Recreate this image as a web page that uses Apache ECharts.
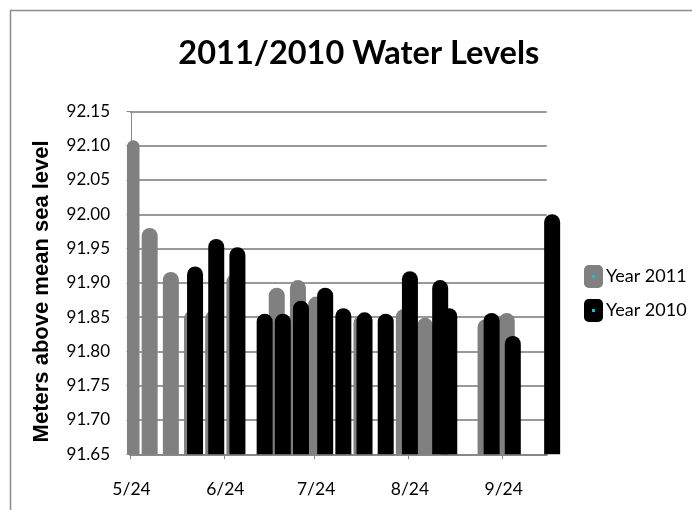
<!DOCTYPE html>
<html>
<head>
<meta charset="utf-8">
<script src="https://cdn.jsdelivr.net/npm/echarts@6/dist/echarts.min.js"></script>
<style>
html,body{margin:0;padding:0;background:#fff;}
#chart{width:692px;height:510px;}
</style>
</head>
<body>
<div id="chart"></div>
<script>
// ---- data (month/day of each reading) ----
const datesA = ['5/24','5/30','6/6','6/13','6/20','6/27','7/11','7/18','7/24','8/8','8/22','8/29','9/18','9/25'];
const valuesA = [92.108,91.98,91.916,91.86,91.86,91.913,91.893,91.904,91.88,91.853,91.862,91.849,91.847,91.856];
const datesB = ['6/14','6/21','6/28','7/7','7/13','7/19','7/27','8/2','8/9','8/16','8/24','9/3','9/6','9/20','9/27','10/10'];
const valuesB = [91.924,91.964,91.952,91.855,91.855,91.874,91.893,91.863,91.857,91.855,91.917,91.904,91.863,91.856,91.8225,92.00];
const tickLabels = ['5/24','6/24','7/24','8/24','9/24'];
const yTicks = [91.65,91.70,91.75,91.80,91.85,91.90,91.95,92.00,92.05,92.10,92.15];
const seriesNames = ['Year 2011','Year 2010'];

function dayOf(md){
  const p = md.split('/').map(Number);
  return Math.round((Date.UTC(2011,p[0]-1,p[1]) - Date.UTC(2011,4,24)) / 86400000);
}
const dataA = datesA.map((d,i)=>[dayOf(d), valuesA[i]]);
const dataB = datesB.map((d,i)=>[dayOf(d), valuesB[i]]);
const labelDays = tickLabels.map(dayOf);
const tickDays = labelDays.map(d=>d-0.5);
const labelMap = {};
tickLabels.forEach((t,i)=>{ labelMap[labelDays[i]] = t; });

const FONT = 'Lato';
const chart = echarts.init(document.getElementById('chart'), null, {renderer:'canvas'});
chart.setOption({
  backgroundColor:'#ffffff',
  animation:false,
  title:{
    text:'2011/2010 Water Levels',
    left:358.8, top:37, padding:0, textAlign:'center',
    textStyle:{fontFamily:FONT, fontWeight:'bold', fontSize:32.5, color:'#000', lineHeight:34}
  },
  legend:{
    orient:'vertical', left:584, top:265, padding:0,
    itemWidth:19, itemHeight:23, itemGap:11,
    icon:'roundRect',
    data:seriesNames,
    textStyle:{fontFamily:FONT, fontSize:18, color:'#000', padding:[4,0,0,-2]}
  },
  grid:{left:130, right:145.3, top:111.4, bottom:55.7, containLabel:false},
  xAxis:{
    type:'value', min:-0.5, max:137.2,
    splitLine:{show:false},
    axisLine:{show:true, lineStyle:{color:'#888888', width:2}},
    axisTick:{show:true, customValues:tickDays, length:5, lineStyle:{color:'#888888', width:1}},
    axisLabel:{show:true, customValues:labelDays, margin:26,
      fontFamily:FONT, fontSize:17.5, color:'#000',
      formatter:function(v){ return labelMap[Math.round(v)] || ''; }}
  },
  yAxis:{
    type:'value', min:yTicks[0], max:yTicks[yTicks.length-1], interval:0.05, startValue:yTicks[0],
    name:'Meters above mean sea level', nameLocation:'middle', nameGap:77, nameRotate:90,
    nameTextStyle:{fontFamily:'Liberation Sans', fontWeight:'bold', fontSize:22, color:'#000', padding:[0,17,0,0]},
    axisLine:{show:true, lineStyle:{color:'#888888', width:1}},
    axisTick:{show:true, inside:false, length:5, lineStyle:{color:'#888888'}},
    splitLine:{show:true, lineStyle:{color:'#999999', width:2}},
    axisLabel:{margin:20, fontFamily:FONT, fontSize:17, color:'#000',
      formatter:function(v){ return v.toFixed(2); }}
  },
  series:[
    {name:seriesNames[0], type:'bar', data:dataA, barWidth:16, barGap:'-100%', clip:true,
     itemStyle:{color:'#808080', borderRadius:[8,8,0,0]}},
    {name:seriesNames[1], type:'bar', data:dataB, barWidth:16, barGap:'-100%', clip:false,
     itemStyle:{color:'#000000', borderRadius:[8,8,0,0]}}
  ],
  graphic:[
    {type:'rect', shape:{x:10.5, y:10.5, width:700, height:540}, style:{fill:null, stroke:'#8c8c8c', lineWidth:1.5}, silent:true, z:-1},
    {type:'rect', shape:{x:592, y:275, width:3, height:3}, style:{fill:'#33b3c3'}, z:100},
    {type:'rect', shape:{x:592, y:309, width:3, height:3}, style:{fill:'#33b3c3'}, z:100}
  ]
});
</script>
</body>
</html>
